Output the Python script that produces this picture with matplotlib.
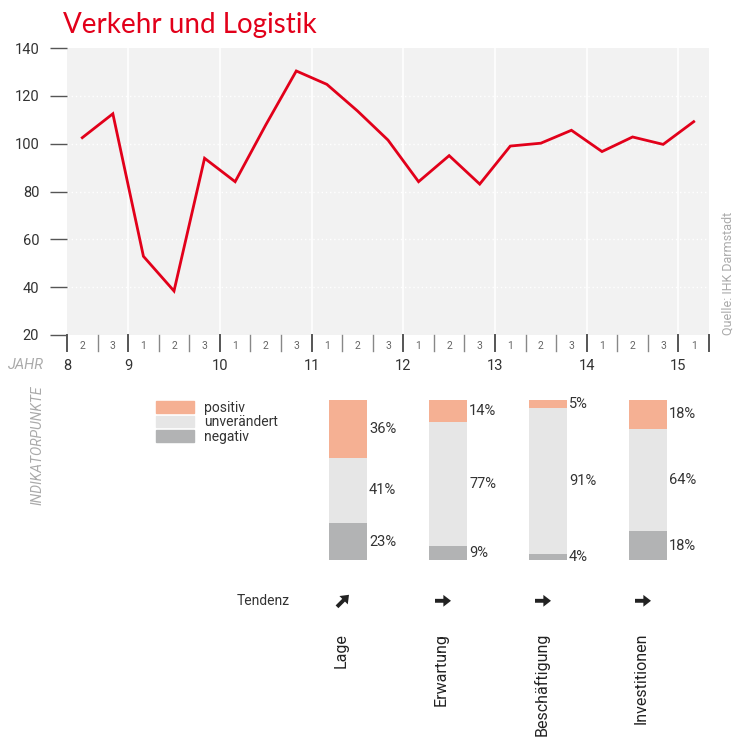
import numpy as np
import matplotlib
matplotlib.use("Agg")
import matplotlib.pyplot as plt
from matplotlib.patches import Patch
from matplotlib.transforms import offset_copy

plt.rcParams['font.family'] = ['Roboto', 'DejaVu Sans']

# survey index, three surveys per year (8/2 ... 15/1)
periods = ["2", "3"] + ["1", "2", "3"] * 6 + ["1"]
years = ["8", "9", "10", "11", "12", "13", "14", "15"]
index_values = [102.5, 112.5, 52.9, 38.4, 93.9, 84.1, 107.8, 130.4, 124.8, 113.7,
                101.5, 84.1, 95.0, 83.1, 99.0, 100.2, 105.6, 96.7, 102.8, 99.7, 109.2]

categories = ["Lage", "Erwartung", "Beschäftigung", "Investitionen"]
positiv = [36, 14, 5, 18]
unveraendert = [41, 77, 91, 64]
negativ = [23, 9, 4, 18]
tendenz = ["up", "flat", "flat", "flat"]

RED = "#e2001a"
C_POS, C_UNV, C_NEG = "#f5b093", "#e6e6e6", "#b2b3b4"
W, H = 734, 748

fig = plt.figure(figsize=(W / 100, H / 100), dpi=100)

def px_axes(x0, y0, x1, y1):
    return fig.add_axes([x0 / W, 1 - y1 / H, (x1 - x0) / W, (y1 - y0) / H])

fig.text(63 / W, 1 - 33 / H, "Verkehr und Logistik", color=RED, fontsize=20,
         family=['Lato', 'DejaVu Sans'], ha='left', va='baseline')

# ---- line chart ----
ax = px_axes(67, 48, 709, 335)
ax.set_facecolor("#f2f2f2")
n = len(index_values)
x = np.arange(n)
ax.set_xlim(-0.5, n - 0.5)
ax.set_ylim(20, 140)
for s in ax.spines.values():
    s.set_visible(False)

for v in range(40, 140, 20):
    ax.axhline(v, color="white", lw=1, ls=(0, (1, 2)), zorder=1)

year_starts = [i - 0.5 for i, p in enumerate(periods) if p == "1"]
for xs in year_starts:
    ax.axvline(xs, color="white", lw=1.2, zorder=1)

ax.plot(x, index_values, color=RED, lw=2, zorder=3, solid_joinstyle='miter')

ax.set_yticks(range(20, 141, 20))
ax.tick_params(axis='y', length=12, width=1, color="#555555", pad=8,
               labelsize=10.5, labelcolor="#333333")
ax.set_xticks([])

tr = ax.get_xaxis_transform()
bounds = np.arange(-0.5, n, 1.0)
for b in bounds:
    is_year = b in year_starts or b == -0.5 or b == n - 0.5
    ax.plot([b, b], [0, -0.055], transform=tr, clip_on=False,
            color="#555555" if is_year else "#888888", lw=1.4 if is_year else 1)
for i, p in enumerate(periods):
    ax.text(i, -0.04, p, transform=tr, ha='center', va='center', fontsize=7.5, color="#666666")
year_pos = [-0.5] + year_starts
for xp, yl in zip(year_pos, years):
    ax.text(xp, -0.107, yl, transform=tr, ha='center', va='center', fontsize=10.5, color="#333333")

fig.text(44 / W, 1 - 365 / H, "JAHR", ha='right', va='center', fontsize=10.5,
         style='italic', color="#aaaaaa")
fig.text(38 / W, 1 - 445 / H, "INDIKATORPUNKTE", ha='center', va='center', fontsize=10,
         style='italic', color="#aaaaaa", rotation=90)
fig.text(728 / W, 1 - 335 / H, "Quelle: IHK Darmstadt", ha='center', va='bottom',
         fontsize=9, color="#aaaaaa", rotation=90)

# ---- stacked bars ----
bx = px_axes(298, 400, 698, 560)
bx.set_xlim(-0.5, 3.5)
bx.set_ylim(0, 100)
bx.axis('off')
bw = 0.38
pos = np.arange(len(categories))
b1 = np.array(negativ)
b2 = b1 + np.array(unveraendert)
bx.bar(pos, negativ, bw, color=C_NEG)
bx.bar(pos, unveraendert, bw, bottom=b1, color=C_UNV)
bx.bar(pos, positiv, bw, bottom=b2, color=C_POS)

for i in pos:
    for val, bot in ((negativ[i], 0), (unveraendert[i], b1[i]), (positiv[i], b2[i])):
        bx.text(i + bw / 2 + 0.02, bot + val / 2, f"{val}%", ha='left', va='center',
                fontsize=10.5, color="#333333")

btr = bx.get_xaxis_transform()
arrow_style = dict(arrowstyle='simple,head_length=0.55,head_width=0.85,tail_width=0.28',
                   mutation_scale=10, color="#222222", shrinkA=0, shrinkB=0, lw=0)
for i, (c, t) in enumerate(zip(categories, tendenz)):
    dx, dy = (6, 6) if t == "up" else (8, 0)
    head_tr = offset_copy(btr, fig=fig, x=dx, y=dy, units='dots')
    bx.annotate("", xy=(i - 0.05, -0.255), xycoords=head_tr,
                xytext=(-2 * dx * 0.72, -2 * dy * 0.72), textcoords='offset points',
                arrowprops=arrow_style, annotation_clip=False)
    bx.text(i - 0.065, -0.455, c, transform=btr, ha='center', va='top', rotation=90,
            fontsize=11.5, color="#222222")
fig.text(290 / W, 1 - 601 / H, "Tendenz", ha='right', va='center', fontsize=10, color="#333333")

handles = [Patch(color=C_POS, label="positiv"), Patch(color=C_UNV, label="unverändert"),
           Patch(color=C_NEG, label="negativ")]
fig.legend(handles=handles, loc='upper left', bbox_to_anchor=(150 / W, 1 - 395 / H),
           frameon=False, fontsize=10, handlelength=2.8, handleheight=0.9,
           labelspacing=0.05, handletextpad=0.7, labelcolor="#333333", borderaxespad=0)

fig.savefig("out.png", dpi=100)
